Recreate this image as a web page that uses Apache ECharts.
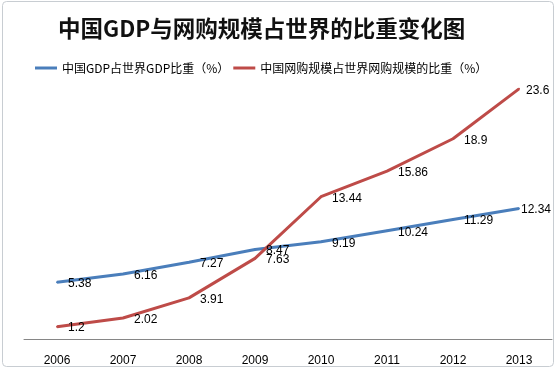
<!DOCTYPE html>
<html><head><meta charset="utf-8">
<script src="https://cdn.jsdelivr.net/npm/echarts@6/dist/echarts.min.js"></script>
<style>html,body{margin:0;padding:0;background:#fff}#c{width:556px;height:369px}</style>
</head><body><div id="c"></div>
<script>
const years = ['2006','2007','2008','2009','2010','2011','2012','2013'];
const gdpShare = [5.38, 6.16, 7.27, 8.47, 9.19, 10.24, 11.29, 12.34];
const ecomShare = [1.2, 2.02, 3.91, 7.63, 13.44, 15.86, 18.9, 23.6];
const seriesNames = ['中国GDP占世界GDP比重（%）', '中国网购规模占世界网购规模的比重（%）'];
const titleText = '中国GDP与网购规模占世界的比重变化图';

const chart = echarts.init(document.getElementById('c'));
const font = '"Noto Sans CJK SC", "DejaVu Sans", sans-serif';
const numFont = '"Liberation Sans", Arial, sans-serif';
const lbl = {show:true, position:'right', distance:10, offset:[0,1.5], color:'#000', fontSize:12, fontFamily:numFont};
function withLastLabel(arr, dist) {
  return arr.map((v, i) => i === arr.length - 1 ? {value:v, label:{distance:dist}} : v);
}
chart.setOption({
  animation:false,
  backgroundColor:'#fff',
  graphic:[{type:'rect', shape:{x:2.5,y:1.5,width:551,height:365,r:4}, style:{fill:'none', stroke:'#c8cdd2', lineWidth:1}, silent:true}],
  title:{text:titleText, left:53, top:12, textStyle:{fontSize:22.5, fontWeight:'bold', color:'#111', fontFamily:font}},
  legend:{top:57, left:30, itemGap:4, itemWidth:22, itemHeight:3, icon:'rect',
    textStyle:{fontSize:12, color:'#000', fontFamily:font}, data:seriesNames},
  grid:{left:24, right:4, top:74, bottom:29.6},
  xAxis:{type:'category', data:years, boundaryGap:true,
    axisLine:{lineStyle:{color:'#868686', width:1}}, axisTick:{show:false},
    axisLabel:{color:'#000', fontSize:12, margin:15, fontFamily:numFont}},
  yAxis:{type:'value', min:0, max:25, show:false, splitLine:{show:false}},
  series:[
    {name:seriesNames[0], type:'line', data:withLastLabel(gdpShare, 1), symbol:'circle', symbolSize:2, showSymbol:true, clip:false,
     lineStyle:{color:'#4a7ebb', width:3}, itemStyle:{color:'#4a7ebb'}, label:lbl},
    {name:seriesNames[1], type:'line', data:withLastLabel(ecomShare, 6), symbol:'circle', symbolSize:2, showSymbol:true, clip:false,
     lineStyle:{color:'#be4b48', width:3}, itemStyle:{color:'#be4b48'}, label:lbl}
  ]
});
</script></body></html>
